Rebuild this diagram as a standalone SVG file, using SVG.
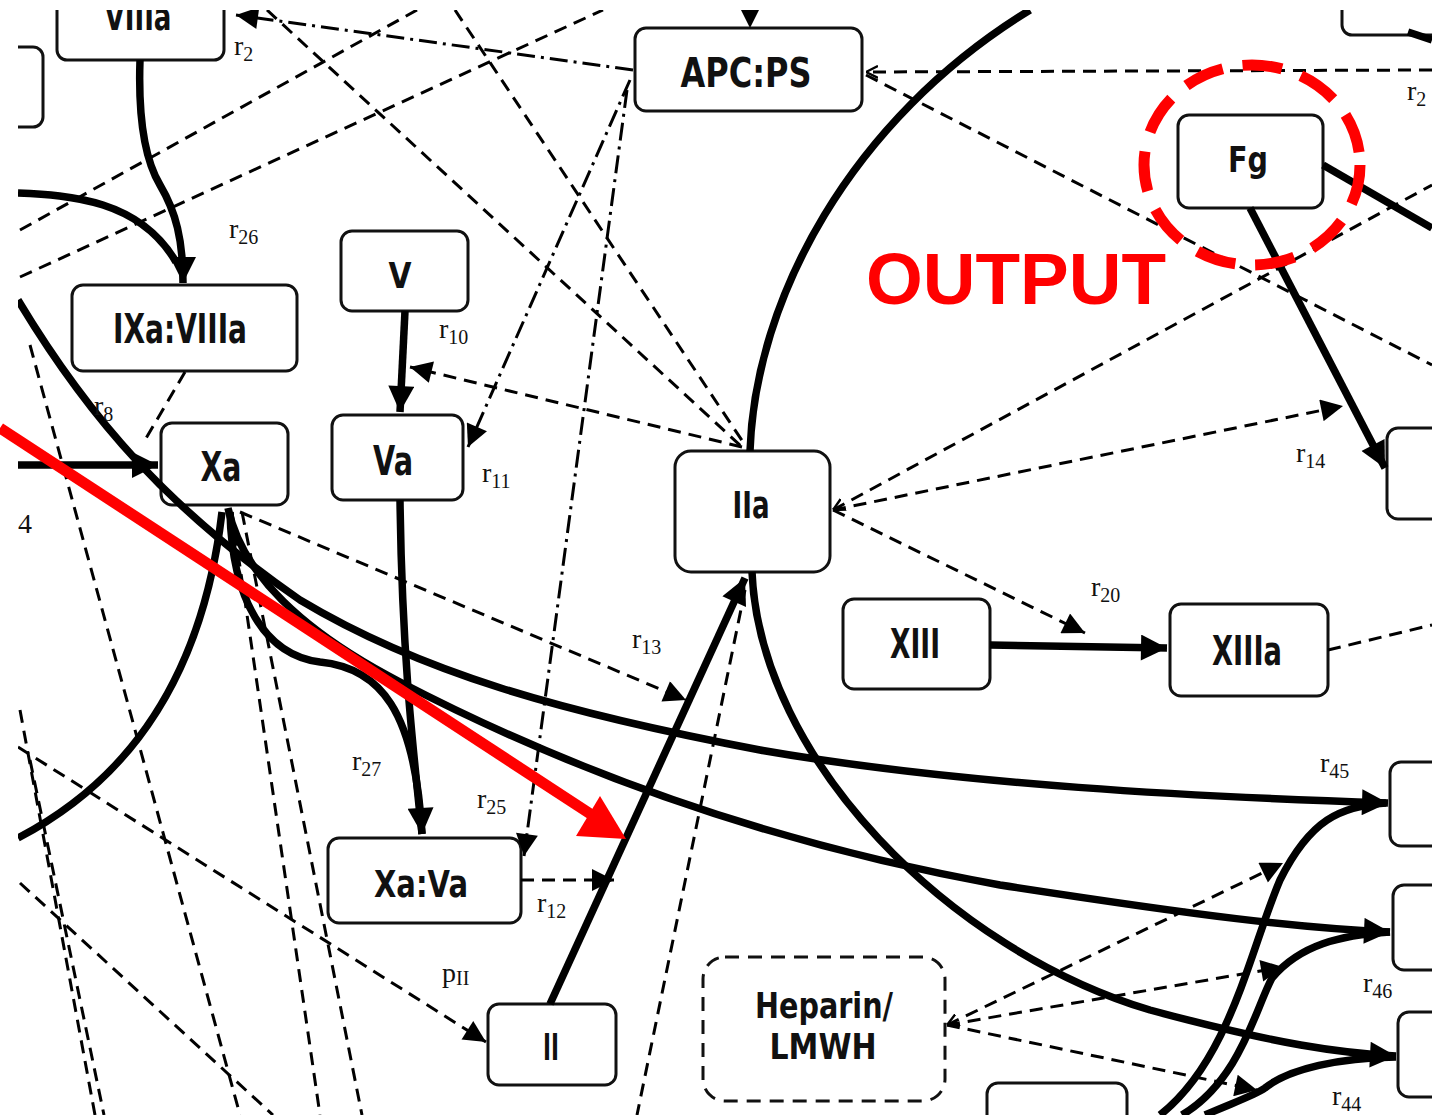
<svg xmlns="http://www.w3.org/2000/svg" width="1432" height="1115" viewBox="0 0 1432 1115">
<defs>
<style>
.box{fill:#fff;stroke:#111;stroke-width:3}
.dbox{fill:#fff;stroke:#111;stroke-width:3;stroke-dasharray:14 9}
.nt{font-family:"DejaVu Sans",sans-serif;font-weight:bold;fill:#111;text-anchor:middle}
.th{fill:none;stroke:#000;stroke-width:7.5}
.ds{fill:none;stroke:#000;stroke-width:3;stroke-dasharray:13 8}
.dd{fill:none;stroke:#000;stroke-width:3;stroke-dasharray:18 6 3 6}
.lb{font-family:"Liberation Serif",serif;font-size:28px;fill:#111}
.sb{font-size:20px}
</style>
<marker id="ah" viewBox="0 0 10 10" refX="10" refY="5" markerWidth="32" markerHeight="26" markerUnits="userSpaceOnUse" orient="auto"><path d="M0,0 L10,5 L0,10 z" fill="#000"/></marker>
<marker id="as" viewBox="0 0 10 10" refX="10" refY="5" markerWidth="26" markerHeight="22" markerUnits="userSpaceOnUse" orient="auto"><path d="M0,0 L10,5 L0,10 z" fill="#000"/></marker>
<marker id="ao" viewBox="0 0 10 10" refX="10" refY="5" markerWidth="12" markerHeight="14" markerUnits="userSpaceOnUse" orient="auto-start-reverse"><path d="M0,0 L10,5 L0,10" fill="none" stroke="#000" stroke-width="2"/></marker>
<clipPath id="cp"><rect x="18" y="10" width="1414" height="1105"/></clipPath>
</defs>
<rect width="1432" height="1115" fill="#fff"/>
<g clip-path="url(#cp)">
<g id="n-VIIIa"><rect class="box" x="57" y="-30" width="167" height="90" rx="10"/><text class="nt" x="138" y="30" font-size="38" textLength="67" lengthAdjust="spacingAndGlyphs">VIIIa</text></g>
<g id="n-left"><rect class="box" x="-40" y="47" width="83" height="80" rx="10"/></g>
<g id="n-APCPS"><rect class="box" x="635" y="28" width="227" height="83" rx="11"/><text class="nt" x="746" y="87" font-size="40" textLength="131" lengthAdjust="spacingAndGlyphs">APC:PS</text></g>
<g id="n-topright"><rect class="box" x="1342" y="-40" width="120" height="75" rx="10"/></g>
<g id="n-Fg"><rect class="box" x="1178" y="115" width="145" height="93" rx="11"/><text class="nt" x="1248" y="172" font-size="36" textLength="40" lengthAdjust="spacingAndGlyphs">Fg</text></g>
<g id="n-IXaVIIIa"><rect class="box" x="72" y="285" width="225" height="86" rx="11"/><text class="nt" x="180" y="343" font-size="40" textLength="134" lengthAdjust="spacingAndGlyphs">IXa:VIIIa</text></g>
<g id="n-V"><rect class="box" x="341" y="231" width="127" height="80" rx="11"/><text class="nt" x="400" y="288" font-size="36" textLength="23" lengthAdjust="spacingAndGlyphs">V</text></g>
<g id="n-Xa"><rect class="box" x="161" y="423" width="127" height="82" rx="11"/><text class="nt" x="221" y="481" font-size="40" textLength="41" lengthAdjust="spacingAndGlyphs">Xa</text></g>
<g id="n-Va"><rect class="box" x="332" y="415" width="131" height="85" rx="11"/><text class="nt" x="393" y="475" font-size="40" textLength="40" lengthAdjust="spacingAndGlyphs">Va</text></g>
<g id="n-IIa"><rect class="box" x="675" y="451" width="155" height="121" rx="16"/><text class="nt" x="751" y="518" font-size="38" textLength="37" lengthAdjust="spacingAndGlyphs">IIa</text></g>
<g id="n-XIII"><rect class="box" x="843" y="599" width="147" height="90" rx="11"/><text class="nt" x="915" y="658" font-size="40" textLength="50" lengthAdjust="spacingAndGlyphs">XIII</text></g>
<g id="n-XIIIa"><rect class="box" x="1170" y="604" width="158" height="92" rx="11"/><text class="nt" x="1247" y="665" font-size="40" textLength="70" lengthAdjust="spacingAndGlyphs">XIIIa</text></g>
<g id="n-right1"><rect class="box" x="1387" y="428" width="80" height="91" rx="11"/></g>
<g id="n-XaVa"><rect class="box" x="328" y="838" width="193" height="85" rx="11"/><text class="nt" x="421" y="897" font-size="38" textLength="94" lengthAdjust="spacingAndGlyphs">Xa:Va</text></g>
<g id="n-II"><rect class="box" x="488" y="1004" width="128" height="81" rx="11"/><text class="nt" x="551" y="1060" font-size="38" textLength="16" lengthAdjust="spacingAndGlyphs">II</text></g>
<g id="n-Heparin"><rect class="dbox" x="703" y="957" width="242" height="144" rx="22"/><text class="nt" x="824" y="1018" font-size="36" textLength="138" lengthAdjust="spacingAndGlyphs">Heparin/</text><text class="nt" x="823" y="1059" font-size="36" textLength="107" lengthAdjust="spacingAndGlyphs">LMWH</text></g>
<g id="n-r45box"><rect class="box" x="1390" y="762" width="80" height="84" rx="11"/></g>
<g id="n-r46box"><rect class="box" x="1393" y="885" width="80" height="85" rx="11"/></g>
<g id="n-r44box"><rect class="box" x="1398" y="1012" width="80" height="85" rx="11"/></g>
<g id="n-bottom"><rect class="box" x="987" y="1083" width="140" height="80" rx="11"/></g>

<g id="connectors">
<path class="th" d="M140,60 C138,120 145,160 160,185 C176,212 183,240 183,283" marker-end="url(#ah)"/>
<path class="th" d="M18,193 C70,195 140,200 176,262"/>
<path class="th" d="M18,300 C90,420 170,510 300,600 C420,672 560,712 760,750 C960,785 1200,797 1388,803" marker-end="url(#ah)"/>
<path class="th" d="M228,508 C240,565 290,625 400,682 C550,760 750,840 1000,885 C1200,916 1300,928 1390,932" marker-end="url(#ah)"/>
<path class="th" d="M222,512 C200,700 110,790 18,838"/>
<path class="th" d="M230,512 C232,600 265,655 320,662 C380,668 415,710 422,834" marker-end="url(#ah)"/>
<path class="th" d="M400,500 C402,650 412,740 422,834"/>
<path class="th" d="M405,311 L400,412" marker-end="url(#ah)"/>
<path class="th" d="M18,465 L158,465" marker-end="url(#ah)"/>
<path class="th" d="M550,1004 L745,578" marker-end="url(#ah)"/>
<path class="th" d="M750,451 C755,300 850,120 1030,10"/>
<path class="th" d="M752,572 C760,760 950,950 1150,1010 C1280,1045 1340,1053 1396,1056" marker-end="url(#ah)"/>
<path class="th" d="M990,645 L1167,648" marker-end="url(#ah)"/>
<path class="th" d="M1250,208 L1385,468" marker-end="url(#ah)"/>
<path class="th" d="M1323,165 L1432,228"/>
<path class="th" d="M1408,32 L1432,40"/>
<path class="th" d="M1160,1115 C1230,1060 1250,950 1280,880 C1310,820 1340,806 1386,803"/>
<path class="th" d="M1182,1115 C1240,1080 1255,1010 1272,978 C1300,945 1340,935 1390,932"/>
<path class="th" d="M1205,1115 C1240,1100 1255,1095 1265,1088 C1290,1068 1340,1058 1396,1057"/>

<path class="ds" d="M1432,70 L866,72" marker-end="url(#ao)"/>
<path class="ds" d="M866,75 L1432,365"/>
<path class="ds" d="M455,10 L745,445"/>
<path class="ds" d="M267,10 L742,447"/>
<path class="ds" d="M742,447 L410,367" marker-end="url(#as)"/>
<path class="ds" d="M20,230 L417,10"/>
<path class="ds" d="M20,277 L603,10"/>
<path class="ds" d="M185,372 L145,440"/>
<path class="ds" d="M240,512 L686,700" marker-end="url(#as)"/>
<path class="ds" d="M521,880 L614,880" marker-end="url(#as)"/>
<path class="ds" d="M232,512 L320,1115"/>
<path class="ds" d="M242,512 L362,1115"/>
<path class="ds" d="M18,747 L486,1042" marker-end="url(#as)"/>
<path class="ds" d="M20,883 L273,1115"/>
<path class="ds" d="M30,345 L240,1115"/>
<path class="ds" d="M20,710 L95,1115"/>
<path class="ds" d="M30,760 L104,1115"/>
<path class="ds" d="M745,590 L637,1115"/>
<path class="ds" d="M833,510 L1432,185" marker-start="url(#ao)"/>
<path class="ds" d="M833,510 L1343,406" marker-end="url(#as)"/>
<path class="ds" d="M833,510 L1085,633" marker-end="url(#as)"/>
<path class="ds" d="M1328,650 L1432,625"/>
<path class="ds" d="M947,1025 L1283,863" marker-start="url(#ao)" marker-end="url(#as)"/>
<path class="ds" d="M947,1025 L1283,967" marker-end="url(#as)"/>
<path class="ds" d="M947,1025 L1257,1090" marker-end="url(#as)"/>

<path class="dd" d="M633,70 L236,15" marker-end="url(#as)"/>
<path class="dd" d="M630,80 L468,447" marker-end="url(#as)"/>
<path class="dd" d="M627,90 L524,856" marker-end="url(#as)"/>
<path class="ds" d="M750,8 L750,28" marker-end="url(#as)"/>
</g>

<g id="labels">
<text class="lb" x="234" y="55">r<tspan class="sb" dy="6">2</tspan></text>
<text class="lb" x="229" y="238">r<tspan class="sb" dy="6">26</tspan></text>
<text class="lb" x="439" y="338">r<tspan class="sb" dy="6">10</tspan></text>
<text class="lb" x="94" y="415">r<tspan class="sb" dy="6">8</tspan></text>
<text class="lb" x="482" y="482">r<tspan class="sb" dy="6">11</tspan></text>
<text class="lb" x="632" y="648">r<tspan class="sb" dy="6">13</tspan></text>
<text class="lb" x="1296" y="462">r<tspan class="sb" dy="6">14</tspan></text>
<text class="lb" x="1091" y="596">r<tspan class="sb" dy="6">20</tspan></text>
<text class="lb" x="352" y="770">r<tspan class="sb" dy="6">27</tspan></text>
<text class="lb" x="477" y="808">r<tspan class="sb" dy="6">25</tspan></text>
<text class="lb" x="537" y="912">r<tspan class="sb" dy="6">12</tspan></text>
<text class="lb" x="442" y="982">p<tspan class="sb" dy="3">II</tspan></text>
<text class="lb" x="1320" y="772">r<tspan class="sb" dy="6">45</tspan></text>
<text class="lb" x="1363" y="992">r<tspan class="sb" dy="6">46</tspan></text>
<text class="lb" x="1332" y="1105">r<tspan class="sb" dy="6">44</tspan></text>
<text class="lb" x="1407" y="100">r<tspan class="sb" dy="6">2</tspan></text>
<text class="lb" x="18" y="533" font-size="18">4</text>
</g>
</g>

<g id="annotations">
<ellipse cx="1252" cy="165" rx="108" ry="100" fill="none" stroke="#f00" stroke-width="11" stroke-dasharray="40 20"/>
<text x="866" y="304" font-family="Liberation Sans, Arial, sans-serif" font-weight="bold" font-size="72" fill="#f00" textLength="300" lengthAdjust="spacingAndGlyphs">OUTPUT</text>
<line x1="0" y1="428" x2="592" y2="815" stroke="#f00" stroke-width="11"/>
<polygon points="626,839 576,836 600,796" fill="#f00"/>
</g>
</svg>
